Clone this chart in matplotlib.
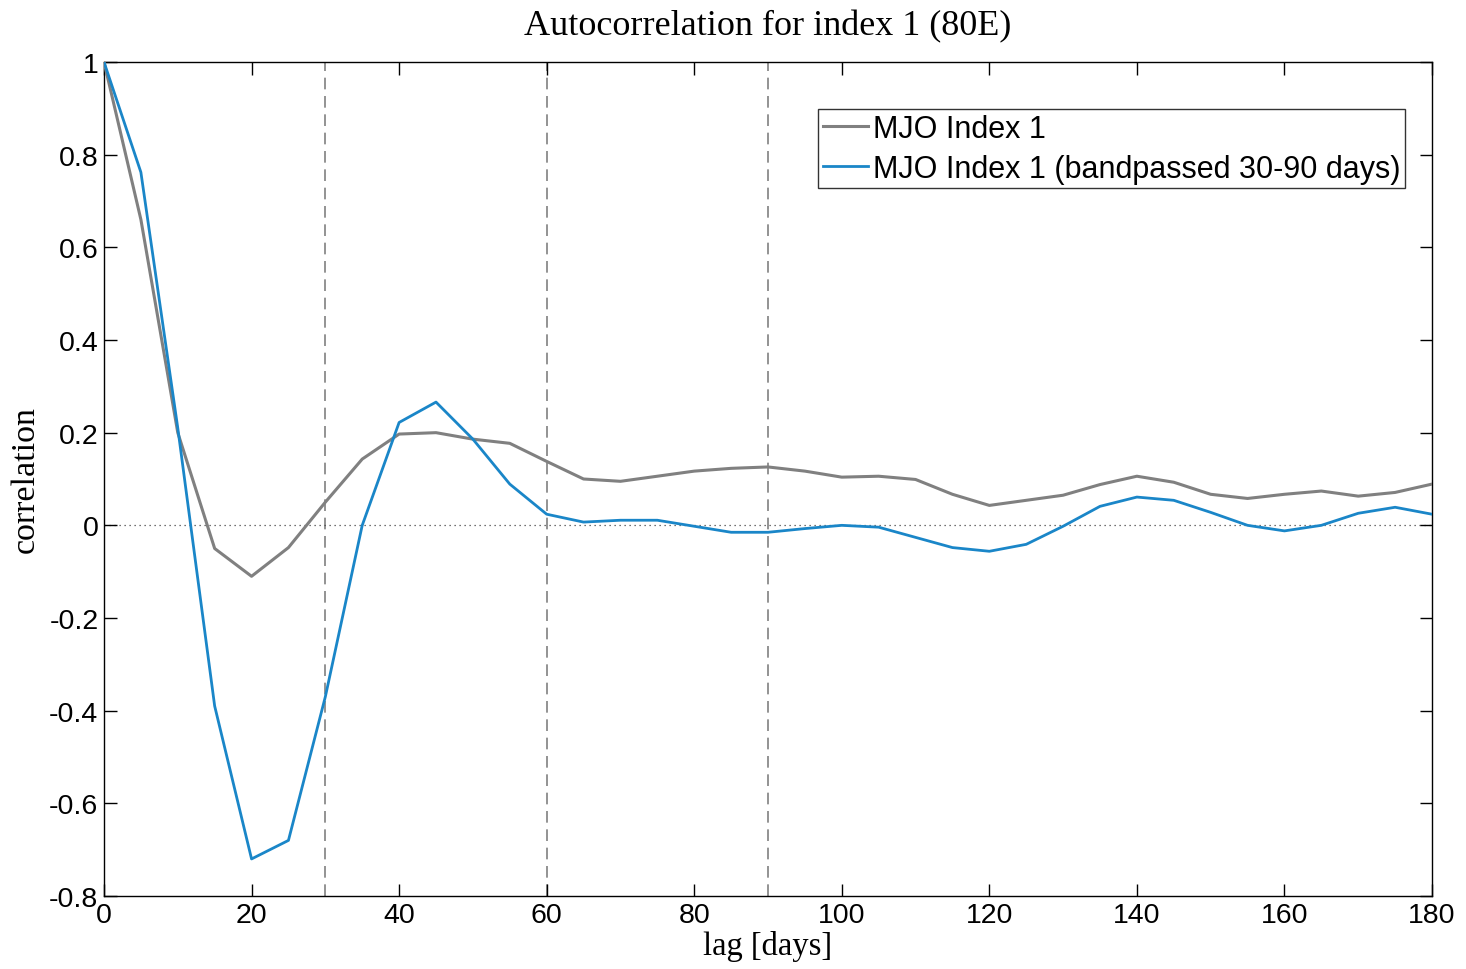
import matplotlib
matplotlib.use("Agg")
import matplotlib.pyplot as plt

lags = list(range(0, 181, 5))
mjo_index1 = [1.0, 0.66, 0.20, -0.05, -0.11, -0.048, 0.05, 0.143, 0.197, 0.20,
              0.186, 0.177, 0.138, 0.10, 0.095, 0.106, 0.117, 0.123, 0.126, 0.117,
              0.104, 0.106, 0.099, 0.067, 0.043, 0.054, 0.065, 0.088, 0.106, 0.093,
              0.067, 0.058, 0.067, 0.074, 0.063, 0.071, 0.089]
mjo_bandpassed = [1.0, 0.762, 0.21, -0.39, -0.72, -0.68, -0.37, 0.0, 0.222, 0.266,
                  0.186, 0.089, 0.024, 0.007, 0.011, 0.011, -0.002, -0.015, -0.015, -0.007,
                  0.0, -0.004, -0.026, -0.048, -0.056, -0.041, -0.002, 0.041, 0.061, 0.054,
                  0.028, 0.0, -0.012, 0.0, 0.026, 0.039, 0.024]
vlines = [30, 60, 90]
xticks = list(range(0, 181, 20))
yticks = [-0.8, -0.6, -0.4, -0.2, 0, 0.2, 0.4, 0.6, 0.8, 1]
ytick_labels = ["-0.8", "-0.6", "-0.4", "-0.2", "0", "0.2", "0.4", "0.6", "0.8", "1"]
labels = ["MJO Index 1", "MJO Index 1 (bandpassed 30-90 days)"]

sans = ["Liberation Sans", "DejaVu Sans"]
serif = ["Liberation Serif", "DejaVu Serif"]

fig = plt.figure(figsize=(14.66, 9.70), dpi=100)
ax = fig.add_axes([104/1466, 1-897/970, (1432-104)/1466, (897-63)/970])

for v in vlines:
    ax.axvline(v, color="#808080", linestyle=(0, (7, 4)), linewidth=1.2, zorder=1)
ax.axhline(0, color="#444444", linestyle=(0, (1, 3)), linewidth=0.9, zorder=1)

ax.plot(lags, mjo_index1, color="#808080", linewidth=2.2, label=labels[0], zorder=3)
ax.plot(lags, mjo_bandpassed, color="#1a86c8", linewidth=2.0, label=labels[1], zorder=4)

ax.set_xlim(0, 180)
ax.set_ylim(-0.8, 1)
ax.set_xticks(xticks)
ax.set_xticklabels([str(t) for t in xticks], fontfamily=sans, fontsize=20.5)
ax.set_yticks(yticks)
ax.set_yticklabels(ytick_labels, fontfamily=sans, fontsize=20.5)
ax.tick_params(direction="in", length=9, width=1, top=True, right=True, pad=4)
for s in ax.spines.values():
    s.set_linewidth(1.0)
    s.set_color("black")

ax.set_title("Autocorrelation for index 1 (80E)", fontfamily=serif, fontsize=26, pad=20)
ax.set_xlabel("lag [days]", fontfamily=serif, fontsize=23.5, labelpad=2)
ax.set_ylabel("correlation", fontfamily=serif, fontsize=24.5, labelpad=6)

leg = ax.legend(loc="upper right", bbox_to_anchor=(0.9797, 0.9436), borderaxespad=0,
                prop={"family": sans, "size": 22}, frameon=True, fancybox=False,
                edgecolor="black", handlelength=1.5, handletextpad=0.15,
                borderpad=0.15, labelspacing=0.33)
leg.get_frame().set_linewidth(1.0)

fig.savefig("out.png", dpi=100)
